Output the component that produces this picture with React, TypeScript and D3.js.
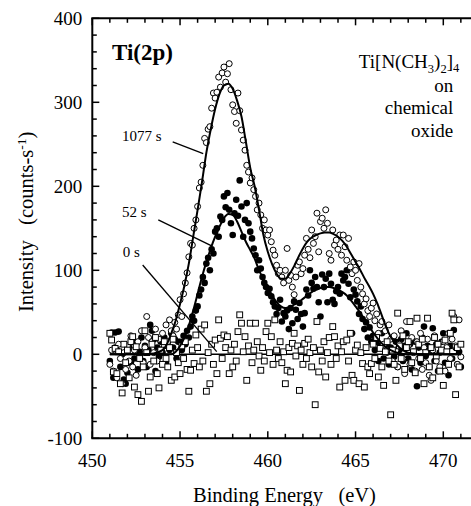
import React from 'react';
import * as d3 from 'd3';

// ---------- data ----------
const E_START = 451;
const E_STEP = 0.1;

// 1077 s exposure (open circles), 451.0 .. 471.0 eV, step 0.1
const s1077 = [
  -12, 5, -20, 8, -28, 12, -5, -35, 2, -18,
  10, -8, 22, -15, 5, -25, 15, -2, 28, -10,
  8, 45, 20, -12, 15, 2, 30, -8, 18, 5,
  25, 10, 35, 15, 41, 28, 22, 38, 30, 47,
  65, 45, 72, 85, 97, 116, 132, 130, 150, 160,
  176, 198, 205, 225, 257, 252, 268, 271, 293, 311,
  305, 312, 330, 318, 335, 342, 324, 334, 346, 315,
  297, 289, 275, 311, 290, 267, 255, 243, 225, 217,
  204, 210, 196, 188, 172, 180, 166, 150, 160, 148,
  142, 148, 134, 124, 118, 106, 96, 100, 92, 85,
  100, 126, 88, 94, 80, 71, 92, 106, 110, 96,
  102, 118, 138, 125, 115, 148, 132, 140, 168, 122,
  158, 162, 150, 172, 156, 120, 112, 148, 130, 136,
  125, 142, 118, 142, 128, 112, 138, 104, 96, 110,
  100, 88, 108, 80, 72, 60, 66, 52, 45, 55,
  61, 40, 48, 25, 35, 39, 12, 28, 5, 35,
  18, -8, 22, 5, -15, 12, 28, -5, -23, 39,
  10, -12, 20, 2, -20, 15, -5, 25, -18, 8,
  -10, 18, -25, -31, 5, 22, -8, 12, -15, 3,
  15, -20, 8, 25, -5, 18, 45, 10, -12, 41,
  -3,
];

// 52 s exposure (filled circles)
const s52 = [
  -8, 26, -28, 26, 5, 27, -15, 0, -30, -35,
  -22, 8, -10, 15, -5, 12, -18, 3, 20, -8,
  10, -15, 5, 35, 28, 18, -20, 8, -3, 15,
  2, 20, -10, 12, 5, 25, 8, 18, -5, 15,
  15, 5, 22, 12, 28, 20, 33, 45, 40, 52,
  57, 70, 77, 92, 85, 108, 115, 100, 125, 120,
  146, 150, 140, 164, 160, 188, 175, 192, 172, 156,
  142, 168, 184, 165, 207, 176, 140, 160, 180, 156,
  146, 138, 126, 118, 100, 112, 102, 92, 85, 80,
  73, 78, 69, 62, 57, 48, 55, 65, 39, 49,
  45, 52, 30, 55, 37, 63, 53, 42, 61, 48,
  33, 49, 77, 70, 100, 85, 78, 92, 80, 62,
  45, 95, 80, 90, 62, 96, 84, 65, 60, 75,
  80, 72, 96, 88, 92, 100, 84, 68, 25, 77,
  71, 63, 48, 57, 42, 30, 38, 20, 32, 15,
  22, 5, 15, -8, 10, 25, -5, 12, 2, -12,
  8, 20, -3, 15, -15, 5, 18, -8, 10, 25,
  -5, 12, -18, 3, 15, -38, 8, -10, 20, 33,
  -2, 10, -15, 5, 31, -8, 12, -20, 2, 15,
  25, -10, 5, -25, 10, -5, 29, 8, -12, 3,
  -15,
];

// 0 s exposure (open squares)
const s0 = [
  25, 17, -21, 7, -23, 3, -35, -46, 12, -10,
  5, -28, 15, 21, -39, 9, -48, -5, -56, -15,
  28, 2, -44, -27, 12, -8, 20, -23, -40, 5,
  -12, 15, -5, -15, 8, -31, 18, -27, 2, -10,
  -23, 10, -5, 15, -18, -44, -19, 5, -11, 23,
  8, -15, 30, -8, 35, -44, 2, -35, 12, -12,
  17, -23, 41, 19, -5, 23, 8, 21, -23, 5,
  -15, 12, -8, 27, 47, 37, 3, 21, -31, 10,
  37, -10, 5, 37, 15, -2, -19, 8, -8, 27,
  37, 2, 21, -12, 41, 5, -5, 15, -10, 3,
  -35, -19, 8, -21, 13, 25, -2, 10, -43, 5,
  -12, 13, -5, 18, 2, -15, 8, -60, 39, -21,
  5, -8, 15, -27, 2, 20, -12, 33, 21, -5,
  10, -39, 3, 15, -31, 17, -8, 25, -25, -31,
  5, 11, -35, 2, -11, -39, 8, -15, -23, -11,
  12, -5, 20, -27, 7, -15, -37, 3, 15, -8,
  -72, 5, -12, -31, 49, 10, -5, 22, -18, 8,
  15, 39, -10, 3, -22, 43, 12, -5, 18, -35,
  2, 43, -15, 8, -28, 20, -2, 12, -20, 5,
  -37, 17, 3, -12, 25, 49, 41, -48, 8, -15,
  12,
];

// fitted curves
const fitE = [
  451, 452, 453, 453.5,
  454, 454.25, 454.5, 454.75, 455, 455.25, 455.5, 455.75,
  456, 456.25, 456.5, 456.75, 457, 457.25, 457.5, 457.75,
  458, 458.25, 458.5, 458.75, 459, 459.25, 459.5, 459.75,
  460, 460.25, 460.5, 460.75, 461, 461.25, 461.5, 461.75,
  462, 462.25, 462.5, 462.75, 463, 463.25, 463.5, 463.75,
  464, 464.25, 464.5, 464.75, 465, 465.25, 465.5, 465.75,
  466, 466.25, 466.5, 466.75, 467,
  467.5, 468, 469, 470, 471,
];
const fit1077 = [
  0, 0, 0, 1,
  5, 12, 25, 40, 60, 82, 108, 140,
  172, 205, 240, 268, 292, 310, 320, 322,
  316, 302, 283, 253, 222, 200, 172, 142,
  122, 107, 96, 90, 90, 96, 105, 116,
  126, 134, 139, 142, 144, 145, 145, 143,
  140, 135, 128, 119, 110, 101, 91, 82,
  72, 60, 46, 32, 21,
  8, 2, 0, 0, 0,
];
const fit52 = [
  0, 0, 0, 0,
  0, 0, 0, 3, 10, 20, 34, 52,
  72, 92, 110, 126, 140, 152, 162, 167,
  166, 158, 146, 134, 124, 114, 100, 90,
  80, 70, 62, 57, 55, 56, 59, 62,
  66, 70, 74, 77, 79, 80, 80, 79,
  77, 74, 70, 64, 57, 50, 42, 34,
  26, 19, 13, 8, 5,
  1, 0, 0, 0, 0,
];
const fit0E = [451, 471];
const fit0 = [0, 0];

const xMajor = [450, 455, 460, 465, 470];
const yMajor = [-100, 0, 100, 200, 300, 400];
const seriesLabels = ['1077 s', '52 s', '0 s'];

// ---------- chart ----------
const FONT =
  "'Liberation Serif', 'DejaVu Serif', 'Noto Serif', 'Tinos', 'Nimbus Roman', 'FreeSerif', 'Times New Roman', Times, Georgia, serif";

export default function App() {
  const W = 471;
  const H = 506;
  const x = d3.scaleLinear().domain([450, 470]).range([92.3, 443.3]);
  const y = d3.scaleLinear().domain([-100, 400]).range([438.3, 18.3]);
  const xL = x(450);
  const xR = x(471.7);
  const yT = y(400);
  const yB = y(-100);

  const pts = (vals: number[]) => vals.map((v, i) => [E_START + i * E_STEP, v] as [number, number]);
  const p1077 = pts(s1077);
  const p52 = pts(s52);
  const p0 = pts(s0);

  const line = d3
    .line<[number, number]>()
    .x((d) => x(d[0]))
    .y((d) => y(d[1]))
    .curve(d3.curveMonotoneX);
  const l1077 = line(fitE.map((e, i) => [e, fit1077[i]]));
  const l52 = line(fitE.map((e, i) => [e, fit52[i]]));
  const l0 = line(fit0E.map((e, i) => [e, fit0[i]]));

  const xMinor = d3.range(450, 472, 1);
  const yMinor = d3.range(-100, 401, 20);

  const txt = { fontFamily: FONT };

  return (
    <svg
      width={W}
      height={H}
      style={{ position: 'absolute', left: 0, top: 0, background: '#fff', fontFamily: FONT }}
    >
      <rect x={0} y={0} width={W} height={H} fill="#fff" />

      {/* baseline fit (0 s) under markers */}
      <path d={l0 || ''} fill="none" stroke="#000" strokeWidth={1.6} />

      {/* markers */}
      {p52.map((d, i) => (
        <circle key={'f' + i} cx={x(d[0])} cy={y(d[1])} r={3.3} fill="#000" />
      ))}
      {p1077.map((d, i) => (
        <circle key={'o' + i} cx={x(d[0])} cy={y(d[1])} r={3} fill="#fff" stroke="#000" strokeWidth={1} />
      ))}
      {p0.map((d, i) => (
        <rect key={'s' + i} x={x(d[0]) - 2.9} y={y(d[1]) - 2.9} width={5.8} height={5.8} fill="#fff" stroke="#000" strokeWidth={1} />
      ))}

      {/* fit lines */}
      <path d={l52 || ''} fill="none" stroke="#000" strokeWidth={2} />
      <path d={l1077 || ''} fill="none" stroke="#000" strokeWidth={2} />

      {/* frame */}
      <line x1={xL} y1={yT} x2={xL} y2={yB} stroke="#000" strokeWidth={2} />
      <line x1={xL - 1} y1={yB} x2={xR} y2={yB} stroke="#000" strokeWidth={2} />
      <line x1={xL - 1} y1={yT} x2={xR} y2={yT} stroke="#000" strokeWidth={2} />
      <line x1={xR} y1={yT} x2={xR} y2={yB} stroke="#000" strokeWidth={2} />

      {/* x ticks */}
      {xMinor.map((v) => {
        const major = v % 5 === 0;
        const len = major ? 7 : 4.5;
        return (
          <g key={'xt' + v}>
            <line x1={x(v)} x2={x(v)} y1={yB} y2={yB - len} stroke="#000" strokeWidth={1.5} />
            <line x1={x(v)} x2={x(v)} y1={yT} y2={yT + len} stroke="#000" strokeWidth={1.5} />
          </g>
        );
      })}
      {/* y ticks */}
      {yMinor.map((v) => {
        const major = v % 100 === 0;
        const len = major ? 7 : 4.5;
        return <line key={'yt' + v} x1={xL} x2={xL + len} y1={y(v)} y2={y(v)} stroke="#000" strokeWidth={1.5} />;
      })}

      {/* tick labels */}
      {xMajor.map((v) => (
        <text key={'xl' + v} style={txt} x={x(v)} y={yB + 28.5} textAnchor="middle" fontSize={19}>
          {v}
        </text>
      ))}
      {yMajor.map((v) => (
        <text key={'yl' + v} style={txt} x={xL - 10} y={y(v) + 6.7} textAnchor="end" fontSize={19}>
          {v}
        </text>
      ))}

      {/* axis titles */}
      <text x={193} y={502} fontSize={20.5} style={{ ...txt, whiteSpace: 'pre' }}>
        {'Binding Energy   (eV)'}
      </text>
      <text transform={`translate(33, 312) rotate(-90)`} fontSize={20.5} style={{ ...txt, whiteSpace: 'pre' }}>
        {'Intensity   (counts-s'}
        <tspan dy={-7} fontSize={13.5}>
          -1
        </tspan>
        <tspan dy={7}>)</tspan>
      </text>

      {/* annotations */}
      <text style={txt} x={x(451.12)} y={y(350.4)} fontSize={23} fontWeight="bold">
        Ti(2p)
      </text>

      <text style={txt} x={x(470.91)} y={y(341.2)} fontSize={19} textAnchor="end">
        Ti[N(CH
        <tspan dy={5} fontSize={12.5}>3</tspan>
        <tspan dy={-5}>)</tspan>
        <tspan dy={5} fontSize={12.5}>2</tspan>
        <tspan dy={-5}>]</tspan>
        <tspan dy={4} fontSize={12.5}>4</tspan>
      </text>
      <text style={txt} x={x(470.57)} y={y(312.6)} fontSize={19} textAnchor="end">on</text>
      <text style={txt} x={x(470.57)} y={y(286)} fontSize={19} textAnchor="end">chemical</text>
      <text style={txt} x={x(470.57)} y={y(259)} fontSize={19} textAnchor="end">oxide</text>

      {/* series labels with leader lines */}
      <text style={txt} x={x(451.69)} y={y(254)} fontSize={15}>{seriesLabels[0]}</text>
      <line x1={x(454.58)} y1={y(253)} x2={x(456.32)} y2={y(239)} stroke="#000" strokeWidth={1.3} />
      <text style={txt} x={x(451.69)} y={y(163.5)} fontSize={15}>{seriesLabels[1]}</text>
      <line x1={x(453.76)} y1={y(160)} x2={x(456.8)} y2={y(129)} stroke="#000" strokeWidth={1.3} />
      <text style={txt} x={x(451.73)} y={y(116.2)} fontSize={15}>{seriesLabels[2]}</text>
      <line x1={x(452.87)} y1={y(106.3)} x2={x(457.09)} y2={y(3.1)} stroke="#000" strokeWidth={1.3} />
    </svg>
  );
}
